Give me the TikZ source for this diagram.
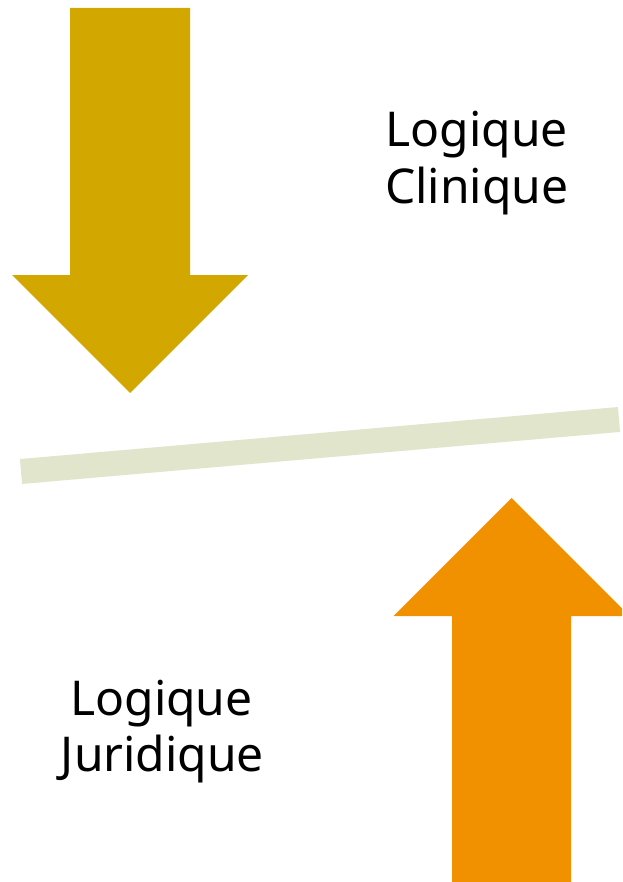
\documentclass[tikz,border=0pt]{standalone}
\usepackage{fontspec}
\setmainfont{Noto Sans}
\definecolor{goldc}{HTML}{D1A700}
\definecolor{orangec}{HTML}{F29100}
\definecolor{barc}{HTML}{E1E5CC}
\tikzset{
  lbl/.style={inner sep=0pt, anchor=base, font=\fontsize{48}{57}\selectfont},
}
\begin{document}
\begin{tikzpicture}[x=1pt,y=-1pt]
\useasboundingbox (0,0) rectangle (622,882);
\clip (0,0) rectangle (622,882);
% top arrow
\fill[goldc] (70,8) -- (190,8) -- (190,275) -- (248,275) -- (130,393) -- (12,275) -- (70,275) -- cycle;
% bar
\coordinate (barL) at (21,471.5);
\coordinate (barR) at (619,419.5);
\draw[barc, line width=25pt] (barL) -- (barR);
% bottom arrow
\fill[orangec] (452,882) -- (571,882) -- (571,616) -- (629.5,616) -- (511.5,498) -- (393.5,616) -- (452,616) -- cycle;
% texts
\node[lbl] (t1) at (476.7,146.7) {Logique};
\node[lbl] (t2) at (476.7,203.7) {Clinique};
\node[lbl] (b1) at (161.5,715) {Logique};
\node[lbl] (b2) at (162.5,771.7) {Juridique};
\end{tikzpicture}
\end{document}
